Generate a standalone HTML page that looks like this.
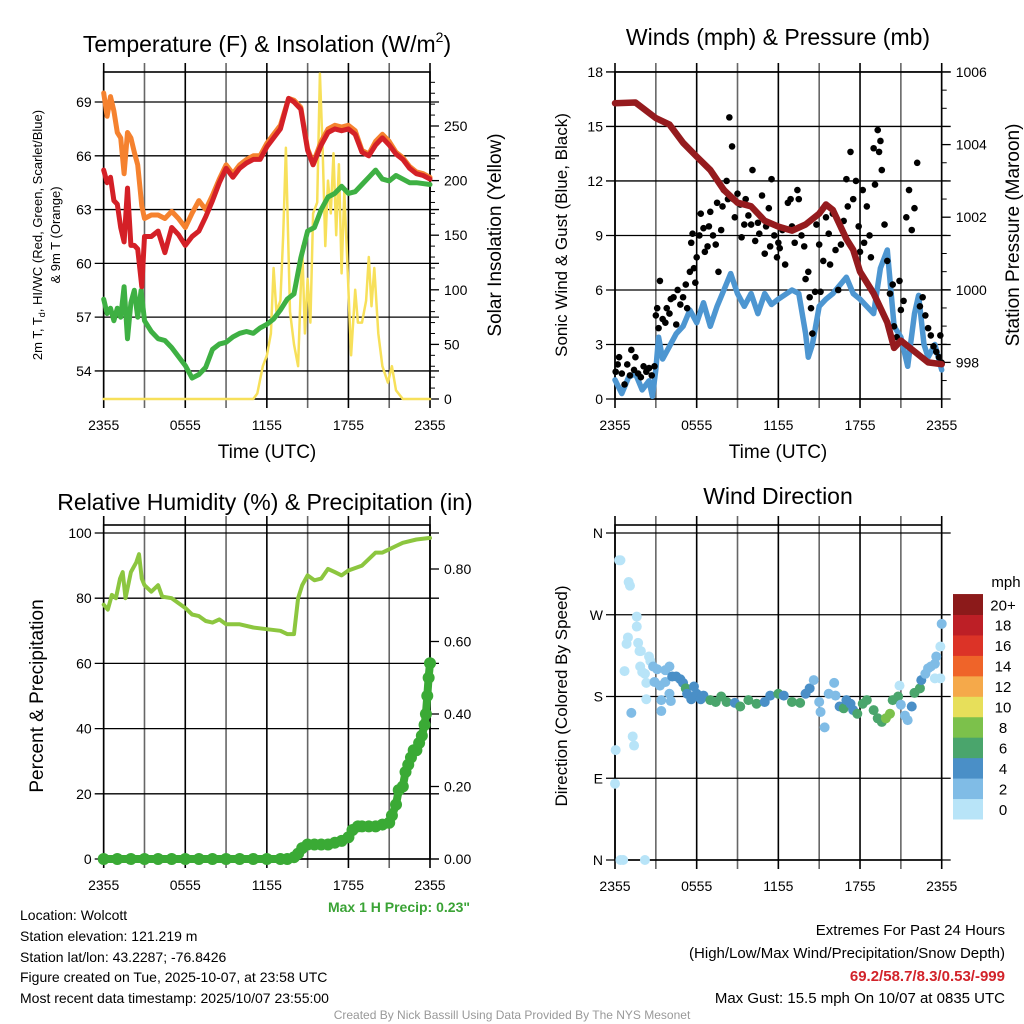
<!DOCTYPE html>
<html><head><meta charset="utf-8"><style>
body{margin:0;background:#fff;}
svg{display:block;font-family:"Liberation Sans",sans-serif;}
</style></head><body>
<svg id="s" width="1024" height="1024" viewBox="0 0 1024 1024">
<text x="267" y="52" font-size="23" text-anchor="middle">Temperature (F) &amp; Insolation (W/m<tspan font-size="14" dy="-10">2</tspan><tspan dy="10">)</tspan></text>
<text x="778" y="45" font-size="23" text-anchor="middle">Winds (mph) &amp; Pressure (mb)</text>
<text x="265" y="510" font-size="23" text-anchor="middle">Relative Humidity (%) &amp; Precipitation (in)</text>
<text x="778" y="504" font-size="23" text-anchor="middle">Wind Direction</text>
<text transform="translate(42,235) rotate(-90)" font-size="13" text-anchor="middle">2m T, T<tspan font-size="9" dy="3">d</tspan><tspan dy="-3">, HI/WC (Red, Green, Scarlet/Blue)</tspan></text>
<text transform="translate(60,235) rotate(-90)" font-size="13" text-anchor="middle">&amp; 9m T (Orange)</text>
<text transform="translate(501,235) rotate(-90)" font-size="19" text-anchor="middle">Solar Insolation (Yellow)</text>
<text transform="translate(567,235) rotate(-90)" font-size="17" text-anchor="middle">Sonic Wind &amp; Gust (Blue, Black)</text>
<text transform="translate(1019,235) rotate(-90)" font-size="19" text-anchor="middle">Station Pressure (Maroon)</text>
<text transform="translate(43,696) rotate(-90)" font-size="19" text-anchor="middle">Percent &amp; Precipitation</text>
<text transform="translate(567,696) rotate(-90)" font-size="17" text-anchor="middle">Direction (Colored By Speed)</text>
<text x="267" y="458" font-size="19" text-anchor="middle">Time (UTC)</text>
<text x="778" y="458" font-size="19" text-anchor="middle">Time (UTC)</text>
<text x="470" y="912" font-size="14" font-weight="bold" fill="#3aa335" text-anchor="end">Max 1 H Precip: 0.23"</text>
<g font-size="14">
<text x="20" y="920">Location: Wolcott</text>
<text x="20" y="941">Station elevation: 121.219 m</text>
<text x="20" y="962">Station lat/lon: 43.2287; -76.8426</text>
<text x="20" y="982">Figure created on Tue, 2025-10-07, at 23:58 UTC</text>
<text x="20" y="1003">Most recent data timestamp: 2025/10/07 23:55:00</text>
</g>
<g font-size="15" text-anchor="end">
<text x="1005" y="935">Extremes For Past 24 Hours</text>
<text x="1005" y="958">(High/Low/Max Wind/Precipitation/Snow Depth)</text>
<text x="1005" y="981" font-weight="bold" fill="#d2232a">69.2/58.7/8.3/0.53/-999</text>
<text x="1005" y="1003">Max Gust: 15.5 mph On 10/07 at 0835 UTC</text>
</g>
<text x="512" y="1019" font-size="12" fill="#999" text-anchor="middle">Created By Nick Bassill Using Data Provided By The NYS Mesonet</text>
</svg>
<script>
// ---- data ----
const xTickLabels=["2355","0555","1155","1755","2355"];
const tempT=[0,0.25,0.5,0.75,1,1.25,1.5,1.75,2,2.25,2.5,2.8,3,3.5,4,4.5,5,5.5,6,6.5,7,7.5,8,8.5,9,9.5,10,10.5,11,11.5,12,12.5,13,13.6,14,14.5,15,15.4,16,16.5,17,17.5,18,18.5,19,19.5,20,20.5,21,21.5,22,22.5,23,23.5,24];
const tempRed=[65.2,64.5,64.8,63.5,63.3,62,61.2,64.2,61,61,60.8,58.7,61.5,61.5,61.8,60.6,62,61.6,61,61.5,61.8,62.6,63.5,64.5,65.3,64.8,65.3,65.6,65.8,65.8,66.5,67,67.5,69.2,69,68.6,66.3,65.5,66.6,67.3,67.5,67.4,67.5,67.2,66.2,66,66.6,67,66.6,66.1,65.8,65.3,65,64.9,64.7];
const tempOrange=[69.5,68.2,69.3,68.5,67.3,67,65,67.3,67,66.2,65.5,63.2,62.5,62.7,62.7,62.5,62.9,62.5,62,62.8,63.5,63,63.8,64.7,65.5,65,65.5,65.8,66,66,66.7,67.2,67.7,69.2,69.1,68.7,66.4,65.6,66.8,67.5,67.7,67.6,67.7,67.4,66.3,66.1,66.8,67.2,66.8,66.2,65.9,65.4,65.1,65,64.8];
const dewT=[0,0.25,0.5,0.75,1,1.25,1.5,1.75,2,2.25,2.5,2.75,3,3.5,4,4.5,5,5.5,6,6.5,7,7.5,8,8.5,9,9.5,10,10.5,11,11.5,12,12.5,13,13.5,14,14.5,15,15.5,16,16.5,17,17.5,18,18.5,19,19.5,20,20.5,21,21.5,22,22.5,23,24];
const dewGreen=[58,57.2,57.5,56.8,57.5,57,58.7,55.8,57.8,58.5,57,58.5,56.8,56.2,55.8,55.7,55.3,54.8,54.3,53.6,53.8,54.2,55.2,55.5,55.6,55.9,56.1,56.2,56.1,56.4,56.6,56.9,57.4,58,58.3,60.3,61.8,62,63,63.7,63.9,64.3,63.9,64,64.4,64.8,65.2,64.7,64.6,64.9,64.7,64.5,64.5,64.4];
const solarT=[0,11,11.3,11.7,12,12.3,12.5,12.7,13,13.2,13.4,13.7,14,14.3,14.6,14.8,15,15.2,15.4,15.7,15.9,16.1,16.3,16.5,16.7,16.9,17.1,17.3,17.5,17.7,17.9,18.2,18.5,18.7,19,19.3,19.5,19.7,19.9,20.2,20.5,20.9,21.2,21.5,22,24];
const solarW=[0,0,5,30,40,60,120,80,90,150,230,80,50,30,140,60,110,70,170,180,298,230,140,200,170,225,150,215,115,190,130,40,100,70,70,90,130,85,120,60,30,15,30,8,0,0];
const tempTicks=[54,57,60,63,66,69];
const solarTicks=[0,50,100,150,200,250];
const windT=[0,0.5,1,1.5,2,2.5,2.75,3,3.2,3.5,4,4.5,5,5.5,6,6.5,7,7.5,8,8.5,9,9.5,10,10.5,11,11.5,12,13,13.5,14,14.2,14.5,15,15.5,16,17,17.5,18,19,19.5,20,20.5,21,21.5,22,22.3,22.7,23,23.5,24];
const windV=[1.05,0.3,1.2,1.4,0.5,1.0,0.15,1.6,3.4,2.2,2.9,3.6,4,4.9,4.2,5.3,4.0,5.1,6.0,6.9,5.8,5.1,5.8,4.7,5.8,5.2,5.5,6.0,5.8,3.6,2.3,3.0,5.1,5.5,5.8,6.7,5.8,5.5,4.7,7.2,8.2,4.0,3.4,1.8,4.7,5.7,3.0,2.3,3.0,1.6];
const presT=[0,1.5,3,4,5,6,7,8,9,10,11,12,13,14,15,15.5,16,17,17.5,18,19,20,20.5,21,22,23,24];
const presMb=[1005.14,1005.16,1004.73,1004.55,1004.05,1003.67,1003.3,1002.75,1002.4,1002.3,1001.9,1001.74,1001.63,1001.8,1002.1,1002.35,1002.2,1001.4,1001.1,1000.5,999.9,999.1,998.4,998.6,998.3,998.0,997.95];
const gustT=[0.05,0.2,0.3,0.5,0.7,0.9,1.1,1.2,1.4,1.5,1.7,1.9,2.1,2.3,2.5,2.7,2.9,3.0,3.1,3.2,3.3,3.5,3.7,3.8,4.0,4.1,4.3,4.5,4.6,4.8,5.0,5.2,5.3,5.5,5.6,5.7,5.8,5.9,6.0,6.2,6.3,6.5,6.6,6.8,6.9,7.0,7.2,7.4,7.5,7.6,7.8,7.9,8.0,8.2,8.3,8.4,8.6,8.7,8.8,9.0,9.2,9.3,9.5,9.6,9.8,10.0,10.1,10.3,10.5,10.6,10.8,11.0,11.1,11.3,11.4,11.5,11.7,11.9,12.0,12.1,12.3,12.5,12.7,12.9,13.0,13.2,13.4,13.5,13.7,13.9,14.0,14.2,14.3,14.4,14.5,14.7,14.8,15.0,15.1,15.3,15.5,15.7,15.8,16.0,16.2,16.4,16.6,16.8,17.0,17.1,17.3,17.5,17.7,17.9,18.0,18.2,18.3,18.5,18.7,18.8,19.0,19.1,19.3,19.4,19.5,19.6,19.8,20.0,20.2,20.4,20.5,20.7,20.9,21.0,21.2,21.4,21.6,21.8,22.0,22.2,22.4,22.6,22.8,23.0,23.2,23.4,23.6,23.8,23.9,24.0];
const gustV=[1.5,1.9,2.3,1.4,0.8,1.9,1.3,2.7,1.6,2.3,1.4,1.2,1.8,1.5,1.7,1.3,1.8,4.6,5.0,3.9,6.5,4.4,4.2,5.0,4.7,5.5,5.6,4.1,6.0,5.2,5.6,6.3,5.0,7.0,8.6,9.1,7.2,6.4,7.8,9.0,10.2,9.4,8.1,8.4,9.5,10.3,9.0,8.5,10.8,7.0,9.3,10.6,11.5,12.0,11.0,15.5,13.9,11.0,10.0,11.3,10.7,8.9,9.6,11.0,10.1,9.6,12.6,8.7,9.7,9.1,11.2,8.0,9.5,10.5,8.4,12.1,9.0,7.8,8.6,8.3,9.3,7.4,10.8,11.0,9.5,8.6,11.5,11.0,9.0,8.4,6.6,7.0,5.6,5.0,3.6,5.9,9.6,8.5,5.9,7.6,10.0,9.1,7.4,10.2,8.2,6.0,8.5,9.8,12.1,10.6,13.6,11.0,12.0,9.5,8.1,11.5,8.6,10.6,9.0,7.8,13.8,11.8,14.8,13.6,14.2,12.6,9.6,7.6,5.8,6.3,4.0,3.4,6.5,4.9,5.4,10.0,11.5,9.3,10.5,13.0,5.1,5.6,4.6,3.9,3.5,2.9,2.6,2.3,3.5,2.0];
const windTicks=[0,3,6,9,12,15,18];
const presTicks=[998,1000,1002,1004,1006];
const rhT=[0,0.3,0.6,0.9,1.2,1.4,1.6,2.0,2.4,2.6,2.8,3.0,3.5,4,4.3,5,5.5,6,6.5,7,7.5,8,8.5,9,10,11,12,13,13.5,14,14.3,14.6,15,15.5,16,16.5,17,17.5,18,19,19.5,20,20.5,21,21.5,22,23,24];
const rhV=[78,76.5,81,80,86,88,80,88,91,93.5,86,84,82,84,80.5,80,78.5,77,75,74.5,73,72.5,73.5,72,72,71,70.5,70,69,69,80,84,87,85.5,86,89,88,87,88.5,90,92,94,94,95,96,97,98,98.5];
const precT=[0,1,2,3,4,5,6,7,8,9,10,11,12,13,13.5,14,14.3,14.6,15,15.5,16,16.5,17,17.5,18,18.3,18.7,19,19.5,20,20.5,21,21.2,21.5,21.7,22,22.2,22.4,22.6,22.8,23,23.2,23.4,23.6,23.7,23.8,23.9,24];
const precIn=[0,0,0,0,0,0,0,0,0,0,0,0,0,0,0,0.005,0.015,0.03,0.04,0.04,0.04,0.04,0.045,0.05,0.06,0.08,0.09,0.09,0.09,0.09,0.095,0.1,0.12,0.15,0.19,0.2,0.24,0.26,0.28,0.3,0.3,0.32,0.34,0.37,0.4,0.45,0.5,0.54];
const rhTicks=[0,20,40,60,80,100];
const precTicks=["0.00","0.20","0.40","0.60","0.80"];
const dirT=[0.05,0.0,0.3,0.4,1.0,1.1,0.4,0.6,2.2,0.7,0.85,0.95,1.2,1.3,1.4,1.6,1.6,1.7,1.8,1.9,1.85,2.0,2.2,2.3,2.3,2.5,2.6,2.8,2.9,3.1,3.3,3.4,3.4,3.7,3.7,4.0,4.0,4.1,4.2,4.5,4.8,5.0,5.2,5.3,5.6,5.8,6.0,6.3,6.5,7.0,7.4,7.8,8.2,8.8,9.2,9.8,10.4,11.0,11.4,12.0,12.4,13.0,13.6,14.0,14.3,14.6,15.0,15.1,15.4,15.7,16.1,16.2,16.5,16.8,17.0,17.3,17.5,17.8,18.2,18.5,19.0,19.3,19.6,19.9,20.2,20.4,20.8,20.9,21.0,21.3,21.5,21.8,22.0,22.4,22.5,22.8,23.0,23.2,23.5,23.5,23.6,23.9,23.9,24];
const dirDeg=[121,84,330,330,306,302,0,0,0,208,238,245,162,136,126,268,257,239,230,230,213,207,205,195,177,224,219,213,196,210,192,176,164,196,209,213,183,175,202,202,199,195,189,183,177,191,183,177,181,176,174,180,174,173,169,176,172,174,181,183,181,174,173,183,189,198,174,163,146,183,195,181,169,167,176,172,165,161,172,176,165,156,152,156,161,176,180,192,171,159,154,169,184,189,198,205,211,213,200,216,224,200,235,260];
const dirSpd=[1,1.5,0.5,0.5,0.5,0.5,0.5,0.5,0.5,1,1,1,2.5,1,1,1,1,1,1,1,1,1,1,1,0.5,1,1.5,3,2.5,3,2.5,3,2.5,2.5,3,3,3,2.5,4,4,4,5,6,4,4,4,4,5,4.5,6,6,6,6,5,6,6,6,4,4,6,5,6,6,5,5,3,3,3,2.5,3,2.5,3,5,6,5,4,4,6,6,6,6,6,7,8,8,6,6,1,3,3,3,4,6,6,5,2.5,2.5,2.5,1.5,2,2,1.5,1.5,2.5];
const cbLabels=["0","2","4","6","8","10","12","14","16","18","20+"];
const cbColors=["#b8e4f8","#80bce6","#4a8fc7","#4aa56c","#7cc14b","#e7df5a","#f5a94a","#ef6429","#dc3327","#bd1f26","#8c1a1a"];

// ---- helpers ----
const svg=document.getElementById('s');
const NS="http://www.w3.org/2000/svg";
function mk(tag,attrs,parent){const e=document.createElementNS(NS,tag);for(const k in attrs)e.setAttribute(k,attrs[k]);(parent||svg).appendChild(e);return e;}
function txt(x,y,s,size,anchor,parent){const e=mk('text',{x:x,y:y,'font-size':size,'text-anchor':anchor},parent);e.textContent=s;return e;}

function panel(name,x0,x1,y0,y1,yTicks,yScale,yLabels,xlab){
  const g=mk('g',{});
  
  
  const xs=h=>x0+(x1-x0)*h/24;
  for(let h=0;h<=24;h+=3){const l=mk('line',{x1:xs(h),x2:xs(h),y1:y0-9,y2:y1+9,stroke:(h%6==0)?'#000':'#666','stroke-width':1.6},g);
    
    }
  yTicks.forEach((v,i)=>{const y=yScale(v);const l=mk('line',{x1:x0-9,x2:x1+9,y1:y,y2:y,stroke:'#000','stroke-width':1.3},g);
    
    
    const t=txt(x0-12,y+5,yLabels[i],14,'end',g);
    
    });
  if(xlab){xTickLabels.forEach((s,i)=>{const t=txt(xs(i*6),y1+31,s,14,'middle',g);
    
    });}
  const f=mk('rect',{x:x0,y:y0,width:x1-x0,height:y1-y0,fill:'none',stroke:'#000','stroke-width':1.6},g);
  
  
  return {g,xs};
}
function path(g,xs,ys,T,V,color,w,name){
  let d='';T.forEach((t,i)=>{d+=(i?'L':'M')+xs(t).toFixed(1)+' '+ys(V[i]).toFixed(1);});
  const p=mk('path',{d:d,fill:'none',stroke:color,'stroke-width':w,'stroke-linejoin':'round','stroke-linecap':'round'},g);
  
  
}
function rightAxis(g,x,ticks,scale,labels,minor){
  ticks.forEach((v,i)=>{const y=scale(v);mk('line',{x1:x,x2:x+9,y1:y,y2:y,stroke:'#000','stroke-width':1.3},g);
    const t=txt(x+14,y+5,labels[i],14,'start',g);
    
    });
  minor.forEach(v=>mk('line',{x1:x,x2:x+5,y1:scale(v),y2:scale(v),stroke:'#000','stroke-width':1},g));
}

// ---- Panel 1: temperature ----
{const x0=103.7,x1=430,y0=72,y1=399;
 const ys=v=>102+(69-v)*17.93;
 const ws=w=>399-w*1.092;
 const p=panel('temperature-panel',x0,x1,y0,y1,tempTicks,ys,tempTicks.map(String),true);
 const mn=[];for(let w=10;w<300;w+=10)if(w%50)mn.push(w);
 rightAxis(p.g,x1,solarTicks,ws,solarTicks.map(String),mn);
 path(p.g,p.xs,ws,solarT,solarW,'#f7e05a',2.5,'solar-insolation-line');
 path(p.g,p.xs,ys,dewT,dewGreen,'#3eb043',5,'dewpoint-line');
 path(p.g,p.xs,ys,tempT,tempOrange,'#f5822f',5,'temp-9m-line');
 path(p.g,p.xs,ys,tempT,tempRed,'#d42027',5,'temp-2m-line');
}
// ---- Panel 2: wind & pressure ----
{const x0=615,x1=941.7,y0=72,y1=399;
 const ys=v=>399-v*18.17;
 const ps=v=>72+(1006-v)*36.3;
 const p=panel('wind-pressure-panel',x0,x1,y0,y1,windTicks,ys,windTicks.map(String),true);
 const mn=[];for(let v=997.5;v<1006;v+=0.5)if(v%2)mn.push(v);
 rightAxis(p.g,x1,presTicks,ps,presTicks.map(String),mn);
 path(p.g,p.xs,ys,windT,windV,'#4d96d1',5.5,'sonic-wind-line');
 gustT.forEach((t,i)=>{const c=mk('circle',{cx:p.xs(t),cy:ys(gustV[i]),r:3.3,fill:'#000'},p.g);
   
   });
 path(p.g,p.xs,ps,presT,presMb,'#951b1e',6.5,'pressure-line');
}
// ---- Panel 3: RH & precip ----
{const x0=103.7,x1=430,y0=525,y1=859;
 const ys=v=>859-v*3.26;
 const ps=v=>859-v*362.5;
 const p=panel('rh-precip-panel',x0,x1,y0,y1,rhTicks,ys,rhTicks.map(String),true);
 rightAxis(p.g,x1,precTicks.map(Number),ps,precTicks,[]);
 path(p.g,p.xs,ys,rhT,rhV,'#8cc63f',4,'relative-humidity-line');
 path(p.g,p.xs,ps,precT,precIn,'#3aaa35',8,'precip-line');
 precT.forEach((t,i)=>{const c=mk('circle',{cx:p.xs(t),cy:ps(precIn[i]),r:6,fill:'#3aaa35'},p.g);
   
   });
}
// ---- Panel 4: direction ----
{const x0=615,x1=941.7,y0=525,y1=860;
 const ys=d=>860-d*(327/360);
 const dirTicks=[0,90,180,270,360];
 const p=panel('wind-direction-panel',x0,x1,y0,y1,dirTicks,ys,["N","E","S","W","N"],true);
 const col=s=>cbColors[Math.min(10,Math.floor(s/2))];
 dirT.forEach((t,i)=>{const c=mk('circle',{cx:p.xs(t),cy:ys(dirDeg[i]),r:5,fill:col(dirSpd[i])},p.g);
   
   });
 const cb=mk('g',{});
 
 
 const bh=20.45;
 cbColors.forEach((c,i)=>{const y=819-(i+1)*bh;mk('rect',{x:953,y:y,width:30,height:bh+0.5,fill:c},cb);
   const t=txt(1003,y+bh/2+6,cbLabels[i],15,'middle',cb);
   
   });
 const u=txt(1006,587,'mph',15,'middle',cb);
 
 
}
</script>
</body></html>
